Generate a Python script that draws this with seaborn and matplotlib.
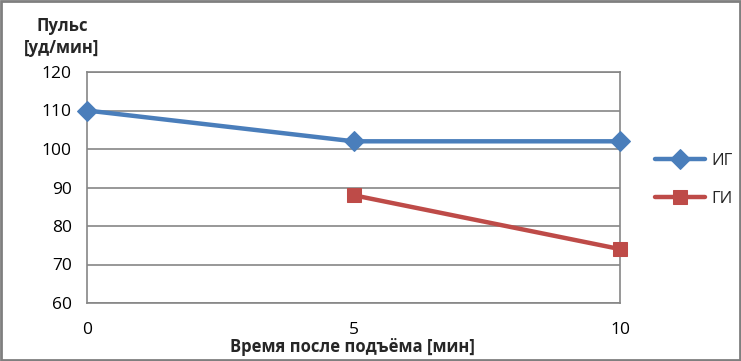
import matplotlib
matplotlib.use("Agg")
import matplotlib.pyplot as plt
import seaborn as sns
import pandas as pd
from matplotlib.patches import Rectangle

sns.set_style("white")
plt.rcParams['font.family'] = ['Open Sans', 'DejaVu Sans']

x_ig = [0, 5, 10]
y_ig = [110, 102, 102]
x_gi = [5, 10]
y_gi = [88, 74]
series_names = ["ИГ", "ГИ"]
x_ticks = [0, 5, 10]
y_ticks = [60, 70, 80, 90, 100, 110, 120]

df_ig = pd.DataFrame({"x": x_ig, "y": y_ig})
df_gi = pd.DataFrame({"x": x_gi, "y": y_gi})

fig = plt.figure(figsize=(7.41, 3.61), dpi=100)
ax = fig.add_axes([87/741, 1-303/361, (620-87)/741, (303-72)/361])

blue = "#4A7EBB"
red = "#BE4B48"
grid = "#868686"

sns.lineplot(data=df_ig, x="x", y="y", ax=ax, color=blue, lw=3.2, marker="D",
             markersize=10, markeredgecolor=blue, label=series_names[0], clip_on=False, zorder=5)
sns.lineplot(data=df_gi, x="x", y="y", ax=ax, color=red, lw=3.2, marker="s",
             markersize=10, markeredgecolor=red, label=series_names[1], clip_on=False, zorder=5)

ax.set_xlim(0, 10)
ax.set_ylim(60, 120)
ax.set_xticks(x_ticks)
ax.set_yticks(y_ticks)
ax.yaxis.grid(True, color=grid, lw=1.2)
ax.xaxis.grid(False)
for s in ["left", "right", "bottom", "top"]:
    ax.spines[s].set_visible(True)
    ax.spines[s].set_color(grid)
    ax.spines[s].set_linewidth(1.2)
ax.tick_params(axis="both", which="both", direction="out", length=5, width=1.2,
               color=grid, labelsize=12.5, labelcolor="black")
ax.tick_params(axis="y", pad=6)
ax.tick_params(axis="x", pad=9)
ax.set_xlabel("")
ax.set_ylabel("")

fig.text(352/741, 1-347/361, "Время после подъёма [мин]", ha="center", va="center",
         fontsize=12, fontweight="bold")
fig.text(62/741, 1-37/361, "Пульс\n[уд/мин]", ha="center", va="center",
         fontsize=12, fontweight="bold", linespacing=1.3)

leg = ax.legend(loc="center left", bbox_to_anchor=(640/741, 1-180/361),
                bbox_transform=fig.transFigure, frameon=False, fontsize=12,
                handlelength=3.0, labelspacing=1.3, handletextpad=0.4)

fig.patches.append(Rectangle((0.001, 0.002), 0.997, 0.995, transform=fig.transFigure,
                             fill=False, edgecolor="#7f7f7f", lw=2))

fig.savefig("out.png", dpi=100)
